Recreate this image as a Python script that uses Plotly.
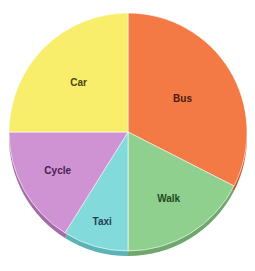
import plotly.graph_objects as go

labels = ["Bus", "Walk", "Taxi", "Cycle", "Car"]
values = [117, 63, 32, 58, 90]
colors = ["#F47A45", "#8FD08E", "#83DADB", "#CF92D2", "#F8EE6C"]
shadow_colors = ["#C45A2E", "#6FA86D", "#5BB3B5", "#A56BA8", "#C9BF40"]
text_colors = ["#4a1a0a", "#1f4a1f", "#1f3f55", "#4a2050", "#4a4510"]

W, H = 255, 271

def dom_y(top_px, bot_px):
    return [1 - bot_px / H, 1 - top_px / H]

fig = go.Figure()
# shadow / 3D rim
fig.add_trace(go.Pie(
    labels=labels, values=values, sort=False, direction="clockwise", rotation=0,
    marker=dict(colors=shadow_colors, line=dict(width=0)),
    textinfo="none", hoverinfo="skip", showlegend=False,
    domain=dict(x=[9 / W, 247 / W], y=dom_y(18, 256)),
))
fig.add_trace(go.Pie(
    labels=labels, values=values, sort=False, direction="clockwise", rotation=0,
    marker=dict(colors=colors, line=dict(width=1, color="rgba(255,255,255,0.6)")),
    texttemplate="<b>%{label}</b>", textposition="inside", insidetextorientation="horizontal",
    textfont=dict(family="Arial, Liberation Sans, sans-serif", size=10, color=text_colors),
    hoverinfo="skip", showlegend=False,
    domain=dict(x=[9 / W, 247 / W], y=dom_y(13, 251)),
))
fig.update_layout(
    width=W, height=H, margin=dict(l=0, r=0, t=0, b=0),
    paper_bgcolor="white", plot_bgcolor="white", showlegend=False,
)
fig.write_html("out.html", config={"displayModeBar": False},
               post_script="document.body.style.margin='0';")
